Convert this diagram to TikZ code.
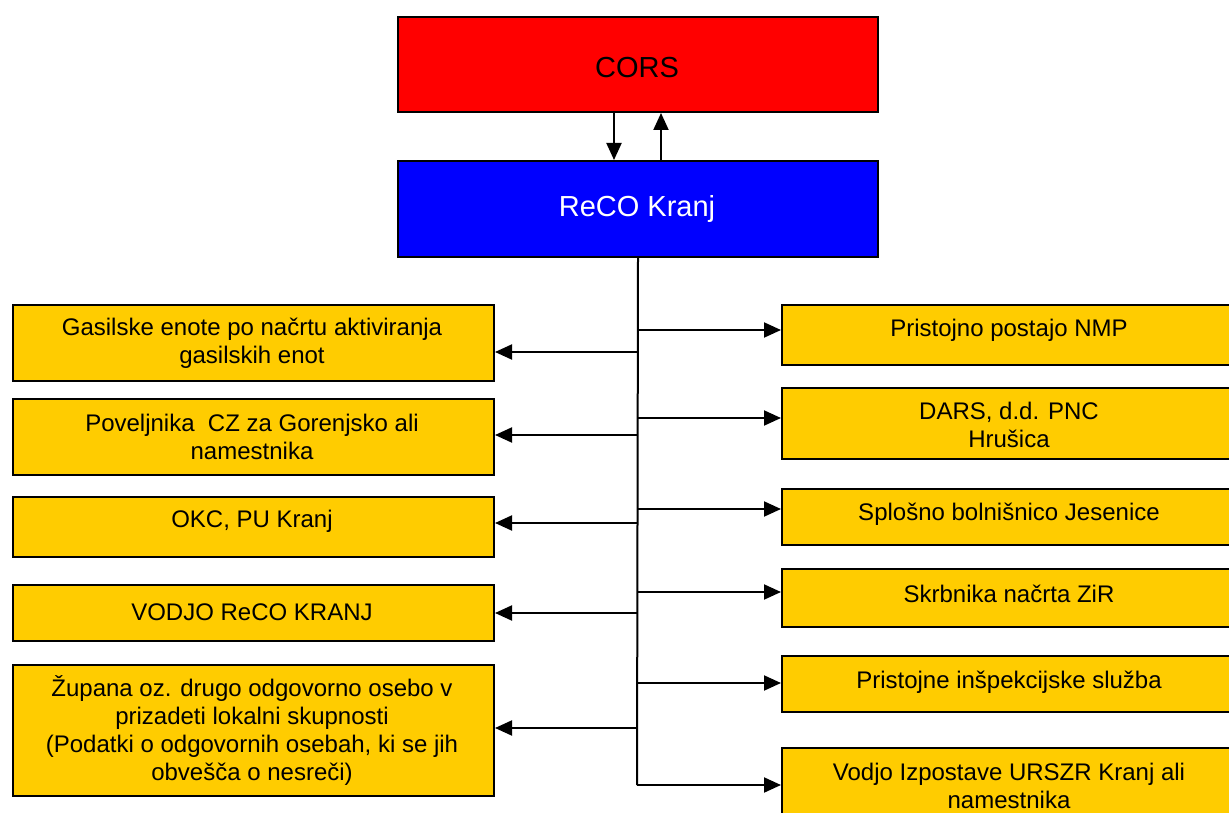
\documentclass[tikz,border=0pt]{standalone}
\usepackage{fontspec}
\setmainfont{Liberation Sans}
\usetikzlibrary{arrows.meta}
\definecolor{boxyellow}{HTML}{FFCC00}
\definecolor{boxred}{HTML}{FF0000}
\definecolor{boxblue}{HTML}{0000FF}
\begin{document}
\begin{tikzpicture}[x=1pt,y=-1pt,
 box/.style={draw=black,line width=2pt,anchor=north west,inner sep=0pt},
 ybox/.style={box,fill=boxyellow},
 lbox/.style={ybox,minimum width=481},
 rbox/.style={ybox,minimum width=456},
 txt/.style={align=center,font=\fontsize{24}{28}\selectfont,inner sep=0pt},
 big/.style={font=\fontsize{29}{34}\selectfont,inner sep=0pt},
 conn/.style={line width=2pt},
 arr/.style={conn,-{Triangle[length=17pt,width=15pt]}}]
\useasboundingbox (0,0) rectangle (1229,813);

% top boxes
\node[box,fill=boxred,minimum width=480,minimum height=95] (cors) at (397,16) {};
\node[big] (corst) at (637,68) {CORS};
\node[box,fill=boxblue,minimum width=480,minimum height=96] (reco) at (397,160) {};
\node[big,text=white] (recot) at (637,209) {ReCO Kranj};

% left boxes
\node[lbox,minimum height=76] (l1) at (12,304) {};
\node[lbox,minimum height=76] (l2) at (12,398) {};
\node[lbox,minimum height=60] (l3) at (12,496) {};
\node[lbox,minimum height=56] (l4) at (12,584) {};
\node[lbox,minimum height=131] (l5) at (12,664) {};

% right boxes
\node[rbox,minimum height=60] (r1) at (781,304) {};
\node[rbox,minimum height=71] (r2) at (781,387) {};
\node[rbox,minimum height=56] (r3) at (781,488) {};
\node[rbox,minimum height=58] (r4) at (781,568) {};
\node[rbox,minimum height=56] (r5) at (781,655) {};
\node[rbox,minimum height=80] (r6) at (781,747) {};

% texts
\node[txt] (l1t) at (252,343) {Gasilske enote po načrtu aktiviranja\\gasilskih enot};
\node[txt] (l2t) at (252,437) {Poveljnika\ \ CZ za Gorenjsko ali\\namestnika};
\node[txt] (l3t) at (252,521) {OKC, PU Kranj};
\node[txt] (l4t) at (252,612) {VODJO ReCO KRANJ};
\node[txt] (l5t) at (252,730) {Župana oz. drugo odgovorno osebo v\\prizadeti lokalni skupnosti\\(Podatki o odgovornih osebah, ki se jih\\obvešča o nesreči)};
\node[txt] (r1t) at (1009,330) {Pristojno postajo NMP};
\node[txt] (r2t) at (1009,425) {DARS, d.d. PNC\\Hrušica};
\node[txt] (r3t) at (1009,514) {Splošno bolnišnico Jesenice};
\node[txt] (r4t) at (1009,594) {Skrbnika načrta ZiR};
\node[txt] (r5t) at (1009,682) {Pristojne inšpekcijske služba};
\node[txt] (r6t) at (1009,786) {Vodjo Izpostave URSZR Kranj ali\\namestnika};

% CORS <-> ReCO
\draw[arr] ([xshift=-24]cors.south) -- ([xshift=-24]reco.north);
\draw[arr] ([xshift=23]reco.north) -- ([xshift=23]cors.south);

% trunk
\coordinate (tend) at (637,785);
\draw[conn] (reco.south) -- (tend);

% left branches
\coordinate (a1) at (637,352);
\coordinate (a2) at (637,435);
\coordinate (a3) at (637,523);
\coordinate (a4) at (637,613);
\coordinate (a5) at (637,728);
\foreach \c/\b in {a1/l1,a2/l2,a3/l3,a4/l4,a5/l5}
  \draw[arr] (\c) -- (\c -| \b.east);

% right branches
\coordinate (c1) at (637,330);
\coordinate (c2) at (637,418);
\coordinate (c3) at (637,509);
\coordinate (c4) at (637,592);
\coordinate (c5) at (637,683);
\foreach \c/\b in {c1/r1,c2/r2,c3/r3,c4/r4,c5/r5,tend/r6}
  \draw[arr] (\c) -- (\c -| \b.west);
\end{tikzpicture}
\end{document}
